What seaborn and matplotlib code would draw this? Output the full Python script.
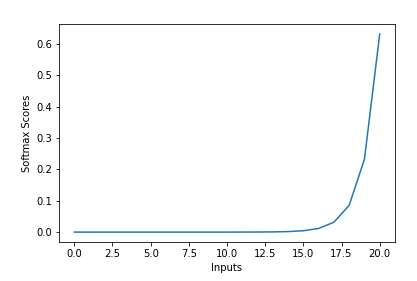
import matplotlib
matplotlib.use("Agg")
import matplotlib.pyplot as plt
import seaborn as sns
import pandas as pd

inputs = list(range(21))
scores = [0.0000, 0.0000, 0.0000, 0.0000, 0.0000, 0.0000, 0.0000, 0.0000,
          0.0000, 0.0000, 0.0000, 0.0001, 0.0002, 0.0006, 0.0016, 0.0043,
          0.0116, 0.0315, 0.0855, 0.2325, 0.6321]

df = pd.DataFrame({"Inputs": inputs, "Softmax Scores": scores})

fig = plt.figure(figsize=(417/72, 281/72), dpi=72)
ax = fig.add_axes([59/417, 1 - 242/281, 336/417, 218/281])
sns.lineplot(data=df, x="Inputs", y="Softmax Scores", ax=ax, color="#1f77b4")
ax.set_xticks([0, 2.5, 5, 7.5, 10, 12.5, 15, 17.5, 20])
ax.set_yticks([0.0, 0.1, 0.2, 0.3, 0.4, 0.5, 0.6])
fig.savefig("out.png", dpi=72)
